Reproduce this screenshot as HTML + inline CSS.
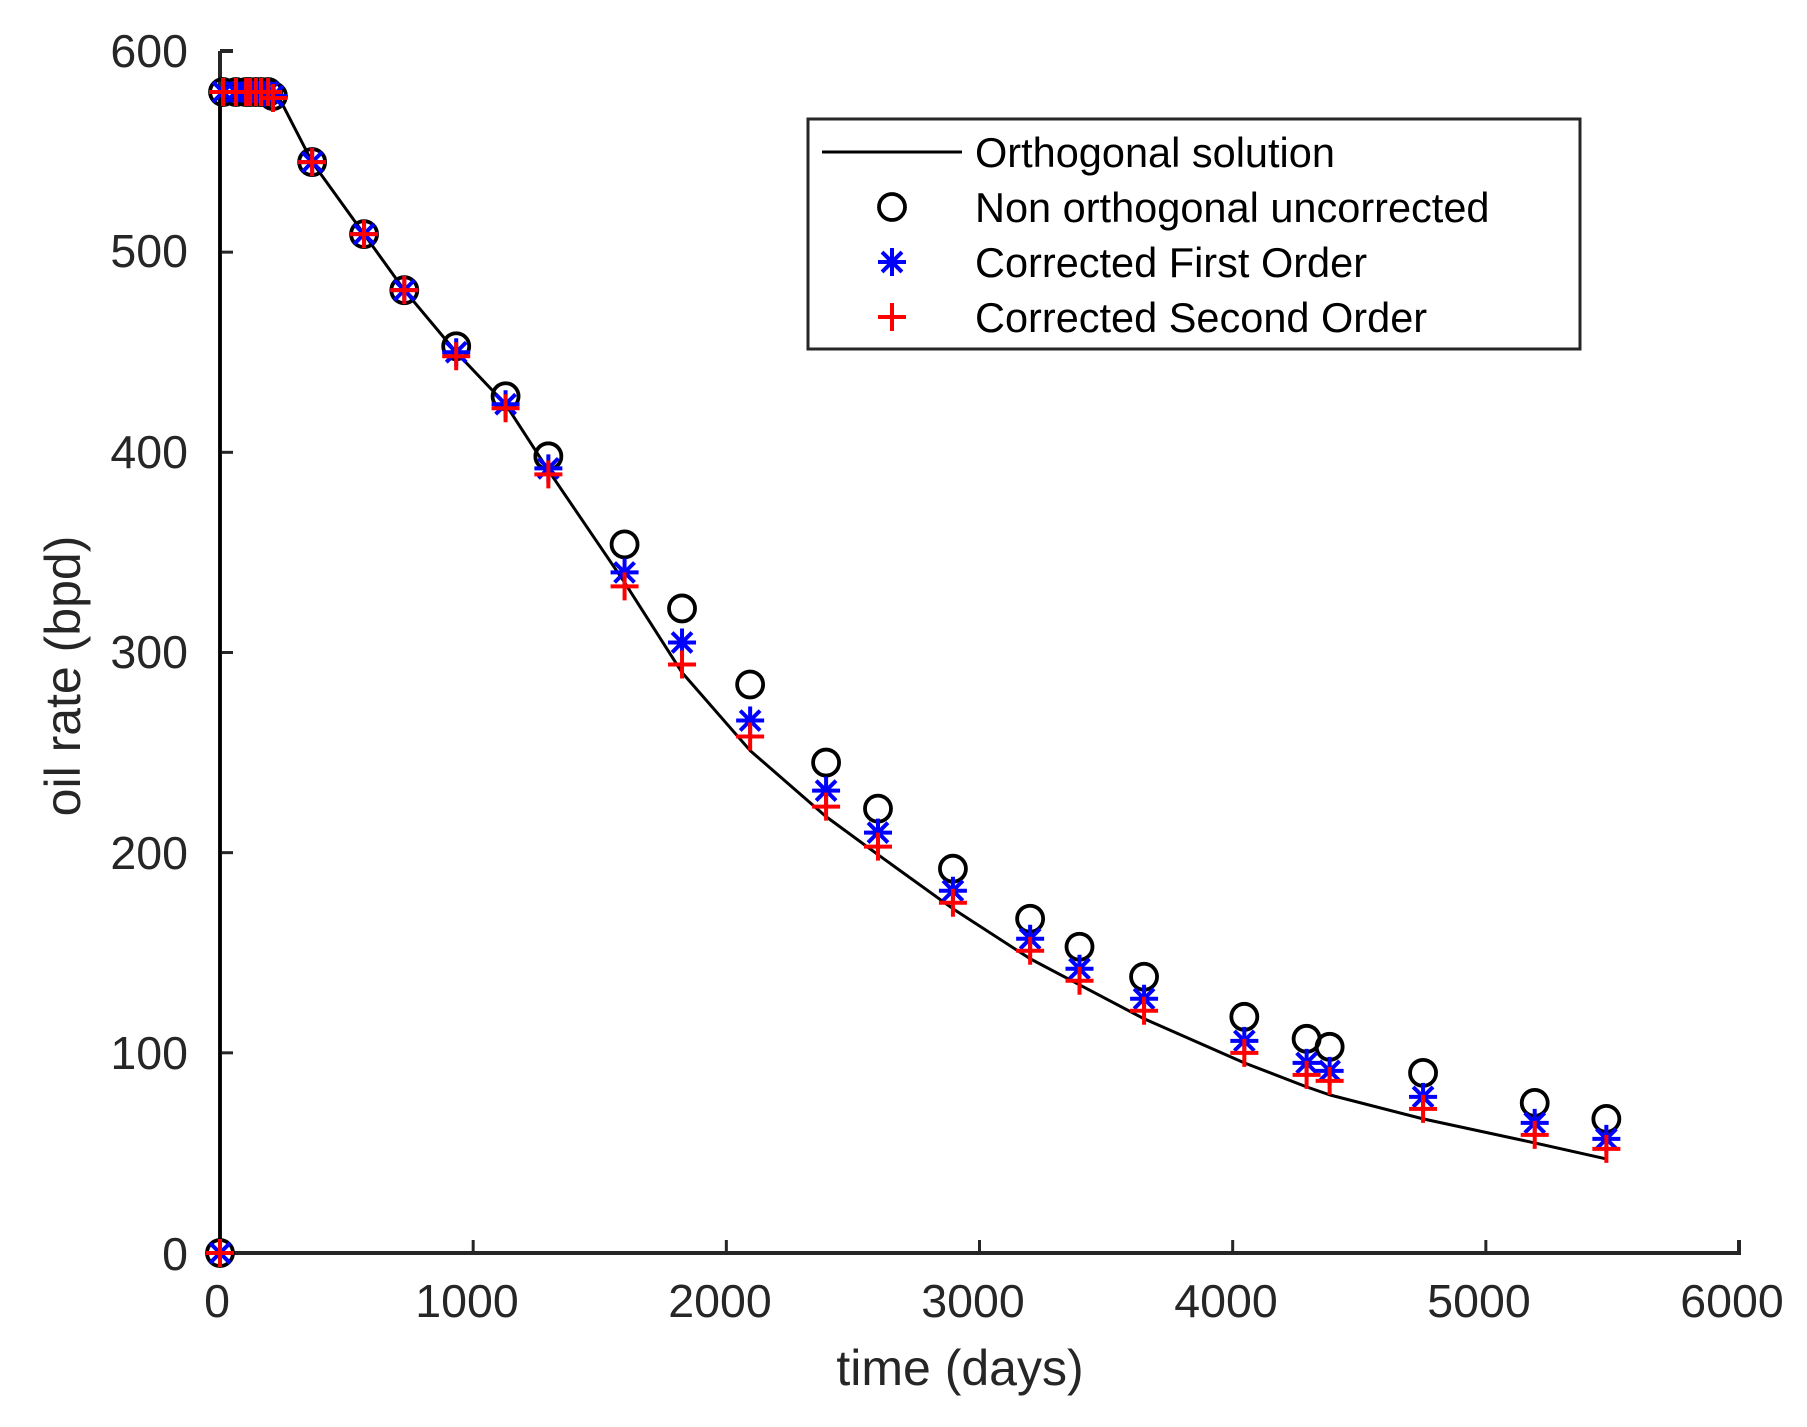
<!DOCTYPE html>
<html><head><meta charset="utf-8"><style>
html,body{margin:0;padding:0;background:#fff;}
svg{display:block;font-family:"Liberation Sans",sans-serif;}
</style></head><body>
<svg id="s" width="1807" height="1427" xmlns="http://www.w3.org/2000/svg">
<rect width="1807" height="1427" fill="#fff"/>
<g id="plot"></g>
<g fill="#262626" font-size="46.5">
<text x="188" y="67" text-anchor="end">600</text>
<text x="188" y="267" text-anchor="end">500</text>
<text x="188" y="468" text-anchor="end">400</text>
<text x="188" y="668" text-anchor="end">300</text>
<text x="188" y="869" text-anchor="end">200</text>
<text x="188" y="1069" text-anchor="end">100</text>
<text x="188" y="1270" text-anchor="end">0</text>
<text x="217" y="1317" text-anchor="middle">0</text>
<text x="467" y="1317" text-anchor="middle">1000</text>
<text x="720" y="1317" text-anchor="middle">2000</text>
<text x="973" y="1317" text-anchor="middle">3000</text>
<text x="1226" y="1317" text-anchor="middle">4000</text>
<text x="1479" y="1317" text-anchor="middle">5000</text>
<text x="1732" y="1317" text-anchor="middle">6000</text>
</g>
<text x="960" y="1385" font-size="50" fill="#262626" text-anchor="middle">time (days)</text>
<text transform="translate(80,676) rotate(-90)" font-size="50" fill="#262626" text-anchor="middle">oil rate (bpd)</text>
<g id="legend">
<rect x="808" y="119" width="772" height="230" fill="#fff" stroke="#262626" stroke-width="3"/>
<line x1="822" y1="152" x2="962" y2="152" stroke="#000" stroke-width="3"/>
<g font-size="41.5" fill="#000">
<text x="975" y="167">Orthogonal solution</text>
<text x="975" y="222">Non orthogonal uncorrected</text>
<text x="975" y="277">Corrected First Order</text>
<text x="975" y="332">Corrected Second Order</text>
</g>
</g>
</svg>
<script>
var X=function(d){return 220+d*0.25317;},Y=function(v){return 1253-v*2.0017;};
var g=document.getElementById('plot'),L=document.getElementById('legend');
var ns="http://www.w3.org/2000/svg";
function el(p,t,a){var e=document.createElementNS(ns,t);for(var k in a)e.setAttribute(k,a[k]);p.appendChild(e);return e;}
el(g,'path',{d:'M220,51 H233 M220,51 V1253 H1739 V1240',fill:'none',stroke:'#262626','stroke-width':4});
for(var i=1;i<6;i++){var x=220+i*253.17;el(g,'line',{x1:x,y1:1253,x2:x,y2:1240,stroke:'#262626','stroke-width':3});}
for(var j=1;j<6;j++){var y=1253-j*200.17;el(g,'line',{x1:220,y1:y,x2:233,y2:y,stroke:'#262626','stroke-width':3});}
var line=[[0,0],[0,580],[200,580],[230,578],[364,545],[569,509],[728,481],[933,450],[1128,424],[1297,391],[1598,335],[1825,290],[2094,251],[2394,218],[2599,199],[2895,172],[3200,147],[3395,134],[3650,117],[4046,95],[4292,83],[4383,79],[4752,67],[5193,55],[5476,47]];
el(g,'polyline',{points:line.map(function(p){return X(p[0])+','+Y(p[1]);}).join(' '),fill:'none',stroke:'#000','stroke-width':3,'stroke-linejoin':'round'});
var pts=[[0,0,0,0],[12,580,580,580],[63,580,580,580],[103,580,580,580],[119,580,580,580],[142,580,580,580],[162,580,580,580],[190,580,580,580],[209,578,578,577],
[364,545,545,545],[569,509,509,509],[728,481,481,481],[933,453,450,448],[1128,428,424,422],[1297,398,392,389],[1598,354,340,333],[1825,322,305,294],[2094,284,266,258],[2394,245,231,223],[2599,222,210,203],[2895,192,181,175],[3200,167,157,151],[3395,153,142,136],[3650,138,127,121],[4046,118,106,100],[4292,107,95,89],[4383,103,91,86],[4752,90,78,72],[5193,75,65,59],[5476,67,57,52]];
function circ(p,x,y){el(p,'circle',{cx:x,cy:y,r:13,fill:'none',stroke:'#000','stroke-width':3.8});}
function star(p,x,y){var r=14,d='M'+(x-r)+','+y+'h'+(2*r)+'M'+x+','+(y-r)+'v'+(2*r);var q=r*0.71;d+='M'+(x-q)+','+(y-q)+'L'+(x+q)+','+(y+q)+'M'+(x-q)+','+(y+q)+'L'+(x+q)+','+(y-q);el(p,'path',{d:d,stroke:'#00f','stroke-width':4,fill:'none'});}
function plus(p,x,y){var r=14;el(p,'path',{d:'M'+(x-r)+','+y+'h'+(2*r)+'M'+x+','+(y-r)+'v'+(2*r),stroke:'#f00','stroke-width':4,fill:'none'});}
pts.forEach(function(p){circ(g,X(p[0]),Y(p[1]));});
pts.forEach(function(p){star(g,X(p[0]),Y(p[2]));});
pts.forEach(function(p){plus(g,X(p[0]),Y(p[3]));});
circ(L,892,207);star(L,892,262);plus(L,892,317);
</script>
</body></html>
